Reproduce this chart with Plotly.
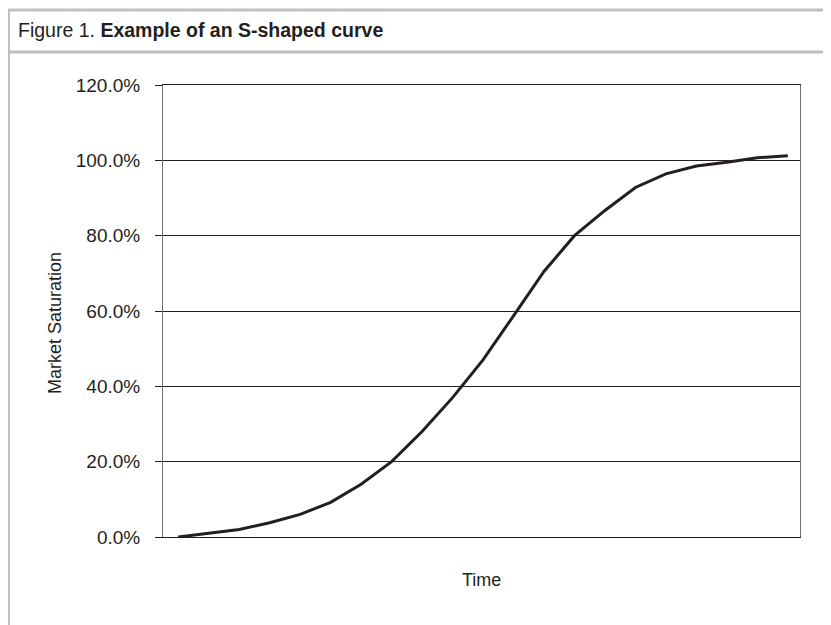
import plotly.graph_objects as go

# Data
periods = list(range(21))
saturation = [0.0, 1.0, 2.0, 3.8, 6.0, 9.2, 14.0, 20.0, 28.0, 37.0, 47.0,
              58.7, 70.5, 80.0, 86.7, 92.8, 96.4, 98.5, 99.5, 100.7, 101.2]
y_ticks = [0, 20, 40, 60, 80, 100, 120]

# The page body adds an 8px offset; figure coordinates compensate for it.
OFF = 8
W, H = 831 - OFF, 625 - OFF
L, R, T, B = 155, 31, 77, 88
pw, ph = W - L - R, H - T - B

def px(x):  # screen x -> paper x
    return (x - OFF - L) / pw

def py(y):  # screen y -> paper y
    return (H - B - (y - OFF)) / ph

ink = "#231f20"
font = "Liberation Sans, Arial, sans-serif"

fig = go.Figure()
fig.add_trace(go.Scatter(x=periods, y=saturation, mode="lines",
                         line=dict(color=ink, width=3), showlegend=False,
                         hoverinfo="skip"))

shapes = [
    dict(type="line", xref="paper", yref="paper", x0=px(7), x1=px(835), y0=py(10), y1=py(10),
         line=dict(color="#c0c0c0", width=3)),
    dict(type="line", xref="paper", yref="paper", x0=px(7), x1=px(835), y0=py(52), y1=py(52),
         line=dict(color="#c0c0c0", width=3)),
    dict(type="line", xref="paper", yref="paper", x0=px(8.5), x1=px(8.5), y0=py(9), y1=py(630),
         line=dict(color="#c0c0c0", width=3)),
]

annotations = [
    dict(xref="paper", yref="paper", x=px(16), y=py(30), xanchor="left", yanchor="middle",
         text="Figure 1. <b>Example of an S-shaped curve</b>", showarrow=False,
         font=dict(family=font, size=19.5, color=ink)),
    dict(xref="paper", yref="paper", x=px(55), y=py(323), xanchor="center", yanchor="middle",
         text="Market Saturation", textangle=-90, showarrow=False,
         font=dict(family=font, size=18, color=ink)),
    dict(xref="paper", yref="paper", x=px(481), y=py(580), xanchor="center", yanchor="middle",
         text="Time", showarrow=False,
         font=dict(family=font, size=18, color=ink)),
]

fig.update_layout(
    width=W, height=H,
    margin=dict(l=L, r=R, t=T, b=B),
    paper_bgcolor="white", plot_bgcolor="white",
    shapes=shapes, annotations=annotations,
    xaxis=dict(range=[-0.5, 20.4], showgrid=False, showticklabels=False, ticks="",
               zeroline=False, showline=True, linecolor=ink, linewidth=1,
               mirror=True, fixedrange=True),
    yaxis=dict(range=[0, 120], tickvals=y_ticks,
               ticktext=[f"{v:.1f}%" for v in y_ticks],
               showgrid=True, gridcolor=ink, gridwidth=1,
               zeroline=False, showline=True, linecolor="#707070", linewidth=1,
               mirror=True, ticks="outside", ticklen=7, tickcolor=ink,
               ticklabelstandoff=11,
               tickfont=dict(family=font, size=19, color=ink), fixedrange=True),
)

fig.write_html("out.html")
